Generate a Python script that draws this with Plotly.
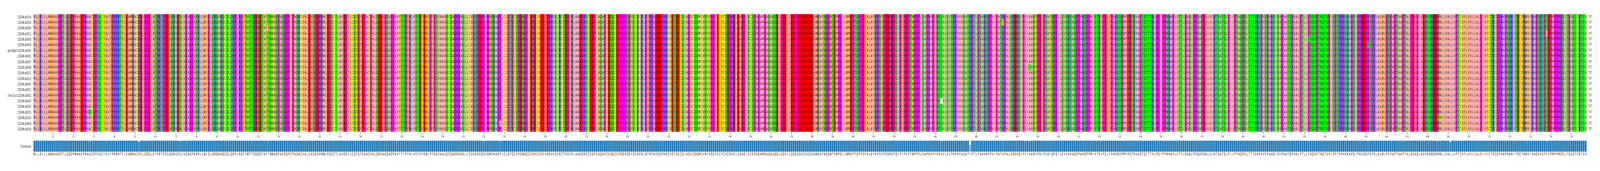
import plotly.graph_objects as go

# CD248 protein alignment, colored with the Zappo residue scheme
row_names = [
    "CD248:a0014", "CD248:a0016", "CD248:a0004", "CD248:a0011", "CD248:a0006",
    "CD248:a0018", "grch38p0:CD248:a0001", "CD248:a0001", "CD248:a0007",
    "CD248:a0008", "CD248:a0012", "CD248:a0013", "CD248:a0005", "CD248:a0017",
    "chm13v2:CD248:a0002", "CD248:a0003", "CD248:a0002", "CD248:a0015",
    "CD248:a0010", "CD248:a0009", "CD248:a0019",
]

reference_seq = (
    "MLLRLLLAWAAAGPTLGQDPWAAEPRAACGPSSCYALFPRRRTFLEAWRACRELGGDLATPRTPEEAQRVDS"
    "LVGAGPASRLLWIGLQRQARQCQLQRPLRGFTWTTGDQDTAFTNWAQPASGGPCPAQRCVALEASGEHRWLE"
    "GSCTLAVD"
    "GYLCQFGFEGACPALQDEAGQAGPAVYTTPFHLVSTEFEWLPFGSVAAVQCQAGRGASLLCVKQPEGGVGWS"
    "RAGPLCLGTGCSPDNGGCEHECVEEVDGHVSCRCTEGFRLAADGRSCEDPCAQAPCEQQCEPGGPQGYSCHC"
    "RLGFRPAED"
    "DPHRCVDTDECQIAGVCQQMCVNYVGGFECYCSEGHELEADGISCSPAGAMGAQASQDLGDELLDDGEDEED"
    "EDEAWKAFNGGWTEMPGILWMEPTQPPDFALAYRPSFPEDREPQIPYPEPTWPPPLSAPRVPYHSSVLSVTR"
    "PVVVSATHP"
    "TLPSAHQPPVIPATHPALSRDHQIPVIAANYPDLPSAYQPGILSVSHSAQPPAHQPPMISTKYPELFPAHQS"
    "PMFPDTRVAGTQTTTHLPGIPPNHAPLVTTLGAQLPPQAPDALVLRTQATQLPIIPTAQPSLTTTSRSPVSP"
    "AHQISVPAA"
    "TQPAALPTLLPSQSPTNQTSPISPTHPHSKAPQIPREDGPSPKLALWLPSPAPTAAPTALGEAGLAEHSQRD"
    "DRWLLVALLVPTCVFLVVLLALGIVYCTRCGPHAPNKRITDCYRWVIHAGSKSPTEPMPPRGSLTGVQTCRT"
    "SV"
)

# (row, column, residue) where a row differs from the sequence above
variant_rows = [0, 17, 12, 13, 20, 2, 11, 19, 15, 1, 8, 9, 4, 5, 18, 10, 11, 3]
variant_cols = [220, 28, 52, 52, 72, 115, 178, 228, 443, 473, 484, 486, 622, 651, 685, 691, 691, 738]
variant_res = list("RSHHNAML-YMTSSQIII")

# H/R split further along, top 13 rows carry H
col_457_r_rows = [13, 14, 15, 16, 17, 18, 19, 20]

tick_cols = list(range(10, 751, 10))

zappo_groups = ["AILMV", "RHK", "DE", "FWY", "GP", "C", "NQST", "-"]
zappo_colors = ["#ffafaf", "#6464ff", "#ff0000", "#ffc800", "#ff00ff", "#ffff00", "#00ff00", "#ffffff"]

seqs = [list(reference_seq) for _ in row_names]
for r, c, res in zip(variant_rows, variant_cols, variant_res):
    seqs[r][c - 1] = res
for r in col_457_r_rows:
    seqs[r][456] = "R"

n_cols = len(reference_seq)
cols = list(range(1, n_cols + 1))
rows = list(range(len(row_names)))
group_of = {res: i for i, g in enumerate(zappo_groups) for res in g}

z = [[group_of[res] for res in s] for s in seqs]

# consensus letter and how many rows agree with it
consensus = []
identity = []
for i in range(n_cols):
    column = [s[i] for s in seqs]
    best = max(set(column), key=column.count)
    consensus.append(best)
    identity.append(column.count(best) / len(column))

n_groups = len(zappo_colors)
colorscale = []
for i, color in enumerate(zappo_colors):
    colorscale.append([i / n_groups, color])
    colorscale.append([(i + 1) / n_groups, color])

fig = go.Figure()

fig.add_trace(go.Heatmap(
    x=cols, y=rows, z=z, zmin=0, zmax=n_groups, colorscale=colorscale,
    showscale=False, hoverinfo="skip", xaxis="x", yaxis="y",
))

text_x = [c for _ in rows for c in cols]
text_y = [r for r in rows for _ in cols]
text_s = [res for s in seqs for res in s]
fig.add_trace(go.Scatter(
    x=text_x, y=text_y, text=text_s, mode="text", hoverinfo="skip",
    textposition="middle center",
    textfont=dict(family="DejaVu Sans", size=10, color="black"),
    xaxis="x", yaxis="y",
))

# sequence lengths on the right
fig.add_trace(go.Scatter(
    x=[n_cols + 1.2] * len(rows), y=rows,
    text=[str(n_cols - s.count("-")) for s in seqs],
    mode="text", textposition="middle right", hoverinfo="skip",
    textfont=dict(family="DejaVu Sans", size=9.72, color="#222222"),
    xaxis="x", yaxis="y",
))

fig.add_trace(go.Bar(
    x=cols, y=[v * 100 for v in identity], width=1,
    marker=dict(
        color=[f"rgba(31,119,180,{v:.3f})" for v in identity],
        line=dict(color="rgba(255,255,255,0.7)", width=1),
    ),
    hoverinfo="skip", xaxis="x2", yaxis="y2",
))

fig.add_trace(go.Scatter(
    x=cols, y=[-24] * n_cols, text=consensus, mode="text",
    hoverinfo="skip", textposition="middle center",
    textfont=dict(family="DejaVu Sans", size=10, color=[f"rgba(0,0,0,{v:.3f})" for v in identity]),
    xaxis="x2", yaxis="y2",
))

# x range runs past the last column to leave room for the length labels
x_range = [0.5, 761.96]

fig.update_layout(
    width=7860, height=438,
    margin=dict(l=164, r=20, t=36, b=0),
    paper_bgcolor="white", plot_bgcolor="white",
    showlegend=False, bargap=0,
    xaxis=dict(
        domain=[0, 1], range=x_range, anchor="y",
        tickvals=tick_cols, ticks="outside", ticklen=5, tickwidth=1, tickcolor="#222222",
        tickfont=dict(family="DejaVu Sans", size=7.2, color="#222222"),
        showgrid=False, zeroline=False, showline=False,
    ),
    yaxis=dict(
        domain=[0.2495, 1], range=[len(rows) - 0.5, -0.5],
        tickvals=rows, ticktext=row_names, ticks="", ticklabelstandoff=10,
        tickfont=dict(family="DejaVu Sans", size=9.72, color="#222222"),
        showgrid=False, zeroline=False, showline=False,
    ),
    xaxis2=dict(
        domain=[0, 1], range=x_range, anchor="y2", visible=False,
    ),
    # range goes below zero so the consensus letters stay on the axis
    yaxis2=dict(
        domain=[0.0821, 0.1933], range=[-55.7, 100], anchor="x2",
        tickvals=[50], ticktext=["Consensus"], ticks="", ticklabelstandoff=10,
        tickfont=dict(family="DejaVu Sans", size=9.72, color="#222222"),
        showgrid=False, zeroline=False, showline=False,
    ),
)

# the test browser caps its window at 4096 wide, so squeeze the 7860 px figure to fit
# whatever window it really gets (scale stays 1 in a true 7860 window)
post = """
var gd = document.getElementById('{plot_id}');
document.body.style.margin = '0';
document.documentElement.style.overflow = 'hidden';
gd.style.transformOrigin = '0 0';
gd.style.transform = 'scale(' + window.innerWidth / 7860 + ',' + window.innerHeight / 438 + ')';
"""
fig.write_html("out.html", post_script=post, config={"displayModeBar": False})
